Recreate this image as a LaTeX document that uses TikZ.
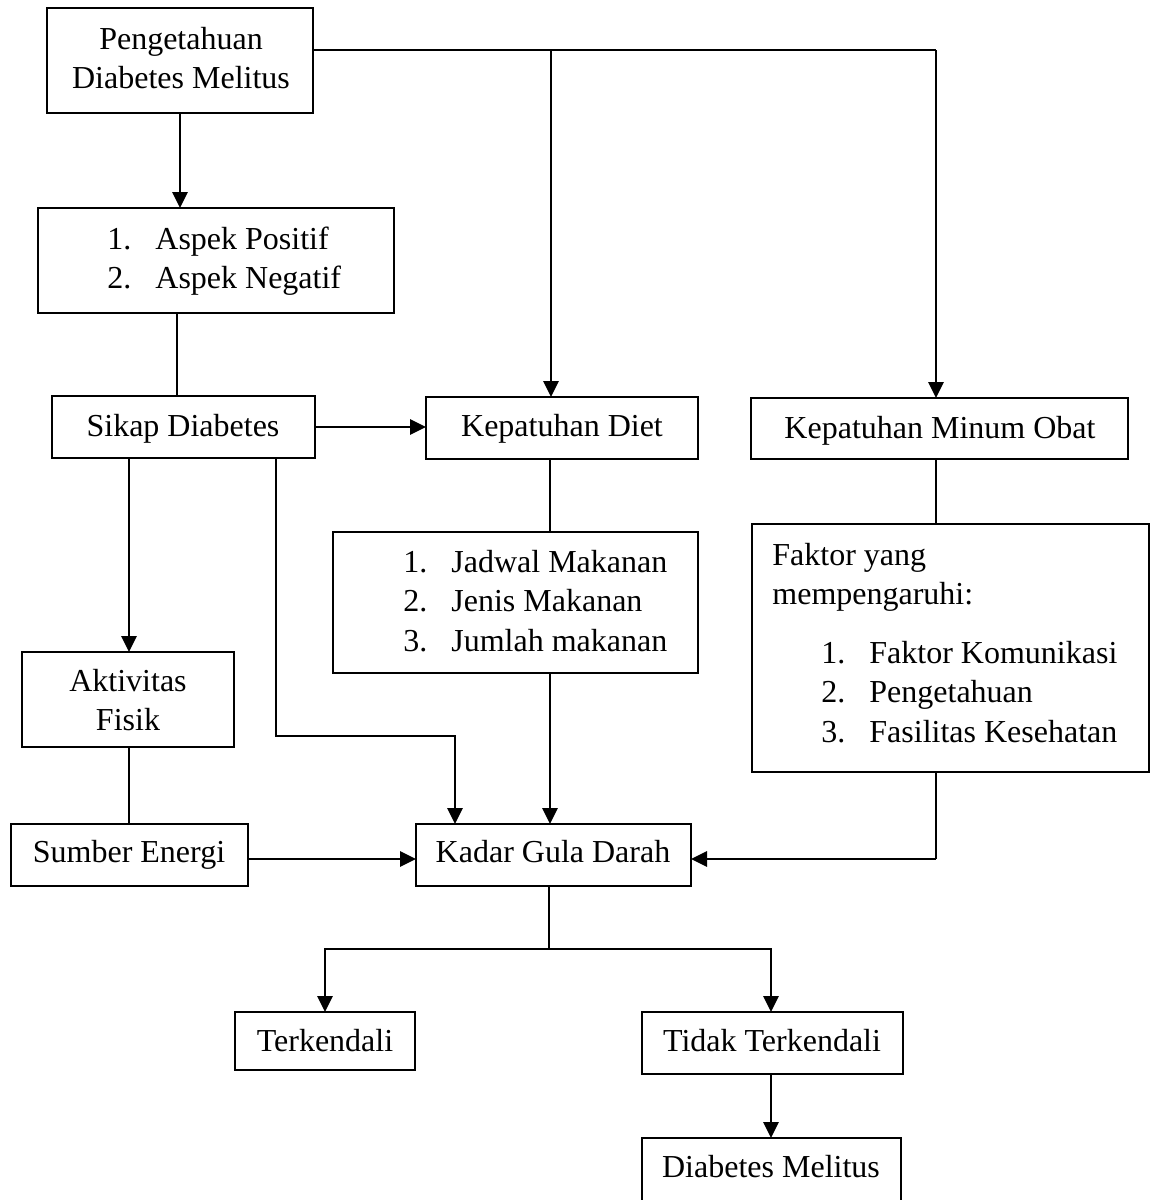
\documentclass[tikz,border=0pt]{standalone}
\usepackage{fontspec}
\setmainfont{Liberation Serif}
\usetikzlibrary{arrows.meta}
\newcommand\bx[5]{\node[box, minimum width={(#4-#2)*0.5pt}, minimum height={(#5-#3)*0.5pt}] (#1) at ({(#2+#4)/2},{(#3+#5)/2}) {};}
\newcommand\itm[1]{\makebox[24pt][l]{#1}}
\begin{document}
\begin{tikzpicture}[x=0.5pt,y=-0.5pt,
  box/.style={draw, line width=0.7pt, inner sep=0pt, outer sep=0pt},
  txt/.style={inner sep=0pt, anchor=base, font=\fontsize{16pt}{19.75pt}\selectfont},
  lst/.style={inner sep=0pt, anchor=base west, font=\fontsize{16pt}{19.75pt}\selectfont},
  thinline/.style={line width=0.65pt},
  thk/.style={line width=1.4pt},
  arr/.style={thk, -{Triangle[length=8pt,width=7.5pt]}}]
\useasboundingbox (0,0) rectangle (1154,1200);
% boxes
\bx{peng}{47}{8}{313}{113}
\bx{aspek}{38}{208}{394}{313}
\bx{sikap}{52}{396}{315}{458}
\bx{diet}{426}{397}{698}{459}
\bx{obat}{751}{398}{1128}{459}
\bx{jadwal}{333}{532}{698}{673}
\bx{faktor}{752}{524}{1149}{772}
\bx{aktiv}{22}{652}{234}{747}
\bx{sumber}{11}{824}{248}{886}
\bx{kadar}{416}{824}{691}{886}
\bx{terk}{235}{1012}{415}{1070}
\bx{tidak}{642}{1012}{903}{1074}
\bx{dm}{642}{1138}{901}{1215}
% texts
\node[txt] (tpeng) at (181,49) {\begin{tabular}[t]{@{}c@{}}Pengetahuan\\Diabetes Melitus\end{tabular}};
\node[lst] (taspek) at (107,249) {\begin{tabular}[t]{@{}l@{}}\itm{1.}Aspek Positif\\\itm{2.}Aspek Negatif\end{tabular}};
\node[txt] (tsikap) at (183,436) {Sikap Diabetes};
\node[txt] (tdiet) at (562,436) {Kepatuhan Diet};
\node[txt] (tobat) at (940,438) {Kepatuhan Minum Obat};
\node[lst] (tjadwal) at (403,572) {\begin{tabular}[t]{@{}l@{}}\itm{1.}Jadwal Makanan\\\itm{2.}Jenis Makanan\\\itm{3.}Jumlah makanan\end{tabular}};
\node[lst] (tfakhead) at (772,565) {\begin{tabular}[t]{@{}l@{}}Faktor yang\\mempengaruhi:\end{tabular}};
\node[lst] (tfaklist) at (821,663) {\begin{tabular}[t]{@{}l@{}}\itm{1.}Faktor Komunikasi\\\itm{2.}Pengetahuan\\\itm{3.}Fasilitas Kesehatan\end{tabular}};
\node[txt] (taktiv) at (128,691) {\begin{tabular}[t]{@{}c@{}}Aktivitas\\Fisik\end{tabular}};
\node[txt] (tsumber) at (129,862) {Sumber Energi};
\node[txt] (tkadar) at (553,862) {Kadar Gula Darah};
\node[txt] (tterk) at (325,1051) {Terkendali};
\node[txt] (ttidak) at (772,1051) {Tidak Terkendali};
\node[txt] (tdm) at (771,1177) {Diabetes Melitus};
% helper coordinates
\coordinate (j1) at (551,50);
\coordinate (j2) at (936,50);
\coordinate (cA) at (177,0);
\coordinate (cB) at (129,0);
\coordinate (cD) at (550,0);
\coordinate (cO) at (936,0);
\coordinate (r1) at (276,736);
\coordinate (r2) at (455,736);
\coordinate (f1) at (936,859);
\coordinate (s0) at (549,949);
\coordinate (s1) at (325,949);
\coordinate (s2) at (771,949);
% connectors
\draw[arr] (peng.south) -- (peng.south |- aspek.north);
\draw[thinline] (peng.east |- j1) -- (j2);
\draw[arr] (j1) -- (j1 |- diet.north);
\draw[arr] (j2) -- (j2 |- obat.north);
\draw[thinline] (aspek.south -| cA) -- (sikap.north -| cA);
\draw[arr] (sikap.east) -- (sikap.east -| diet.west);
\draw[arr] (sikap.south -| cB) -- (aktiv.north -| cB);
\draw[thinline] (aktiv.south -| cB) -- (sumber.north -| cB);
\draw[arr] (sikap.south -| r1) -- (r1) -- (r2) -- (r2 |- kadar.north);
\draw[thinline] (diet.south -| cD) -- (jadwal.north -| cD);
\draw[arr] (jadwal.south -| cD) -- (kadar.north -| cD);
\draw[thinline] (obat.south -| cO) -- (faktor.north -| cO);
\draw[thinline] (faktor.south -| cO) -- (f1);
\draw[arr] (f1) -- (kadar.east |- f1);
\draw[arr] (sumber.east |- f1) -- (kadar.west |- f1);
\draw[thk] (kadar.south -| s0) -- (s0);
\draw[arr] (s0) -- (s1) -- (s1 |- terk.north);
\draw[arr] (s0) -- (s2) -- (s2 |- tidak.north);
\draw[arr] (tidak.south -| s2) -- (dm.north -| s2);
\end{tikzpicture}
\end{document}
